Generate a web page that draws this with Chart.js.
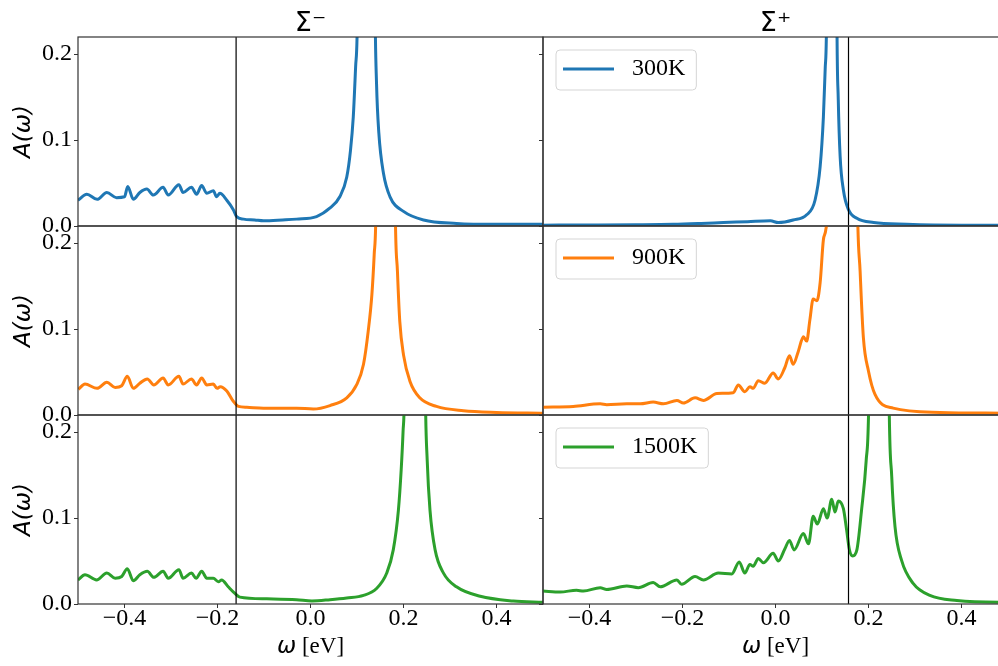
<!DOCTYPE html>
<html>
<head>
<meta charset="utf-8">
<script src="https://cdn.jsdelivr.net/npm/chart.js@4.4.1/dist/chart.umd.min.js"></script>
<style>
  html, body { margin: 0; padding: 0; background: #fff; overflow: hidden; }
  #fig { position: relative; width: 998px; height: 666px; overflow: hidden; background: #fff; }
  #fig canvas { position: absolute; }
</style>
</head>
<body>
<div id="fig"></div>
<script>
const temperatures = ["300K", "900K", "1500K"];
const panelTitles = ["Σ⁻", "Σ⁺"];
const lineColors = ["#1f77b4", "#ff7f0e", "#2ca02c"];
const xTicks = [-0.4, -0.2, 0.0, 0.2, 0.4];
const yTicks = [0.0, 0.1, 0.2];
const gapEdges = [-0.16, 0.157];

// Σ⁻ 300K
const wMinus300 = [-0.500, -0.481, -0.459, -0.438, -0.417, -0.400, -0.393, -0.381, -0.367, -0.352, -0.338, -0.317, -0.306, -0.283, -0.274, -0.256, -0.245, -0.234, -0.223, -0.209, -0.202, -0.195, -0.180, -0.166, -0.159, -0.144, -0.120, -0.101, -0.060, -0.030, 0.013, 0.042, 0.063, 0.078, 0.086, 0.092, 0.097, 0.101, 0.120, 0.139, 0.142, 0.147, 0.157, 0.171, 0.200, 0.243, 0.314, 0.400, 0.500];
const aMinus300 = [0.030, 0.037, 0.031, 0.039, 0.033, 0.034, 0.046, 0.031, 0.039, 0.043, 0.036, 0.045, 0.036, 0.048, 0.039, 0.045, 0.037, 0.047, 0.038, 0.041, 0.034, 0.038, 0.030, 0.019, 0.011, 0.008, 0.007, 0.006, 0.007, 0.008, 0.011, 0.021, 0.034, 0.057, 0.088, 0.127, 0.185, 0.25, 2.0, 0.25, 0.166, 0.108, 0.061, 0.034, 0.017, 0.007, 0.003, 0.002, 0.002];

// Σ⁺ 300K
const wPlus300 = [-0.500, -0.400, -0.300, -0.220, -0.160, -0.112, -0.060, -0.011, 0.006, 0.038, 0.067, 0.085, 0.096, 0.103, 0.107, 0.110, 0.121, 0.132, 0.135, 0.139, 0.146, 0.157, 0.175, 0.211, 0.282, 0.400, 0.500];
const aPlus300 = [0.001, 0.0012, 0.0015, 0.002, 0.003, 0.004, 0.005, 0.006, 0.004, 0.007, 0.013, 0.030, 0.069, 0.127, 0.185, 0.25, 2.0, 0.25, 0.147, 0.081, 0.042, 0.019, 0.009, 0.004, 0.002, 0.001, 0.001];

// Σ⁻ 900K
const wMinus900 = [-0.499, -0.485, -0.459, -0.438, -0.420, -0.406, -0.394, -0.381, -0.367, -0.351, -0.337, -0.317, -0.306, -0.283, -0.274, -0.256, -0.245, -0.234, -0.223, -0.209, -0.201, -0.194, -0.180, -0.166, -0.155, -0.137, -0.101, -0.030, 0.006, 0.042, 0.078, 0.099, 0.114, 0.124, 0.132, 0.137, 0.141, 0.161, 0.182, 0.187, 0.192, 0.200, 0.214, 0.235, 0.271, 0.329, 0.400, 0.500];
const aMinus900 = [0.030, 0.036, 0.031, 0.038, 0.032, 0.034, 0.045, 0.031, 0.037, 0.042, 0.035, 0.043, 0.035, 0.045, 0.036, 0.042, 0.035, 0.043, 0.035, 0.036, 0.031, 0.033, 0.028, 0.016, 0.010, 0.009, 0.008, 0.008, 0.007, 0.011, 0.020, 0.035, 0.059, 0.097, 0.140, 0.187, 0.25, 2.0, 0.25, 0.167, 0.109, 0.070, 0.039, 0.020, 0.010, 0.005, 0.003, 0.002];

// Σ⁺ 900K
const wPlus900 = [-0.500, -0.435, -0.377, -0.363, -0.320, -0.291, -0.263, -0.241, -0.212, -0.198, -0.173, -0.155, -0.126, -0.091, -0.080, -0.066, -0.055, -0.048, -0.037, -0.023, -0.005, 0.006, 0.020, 0.030, 0.038, 0.049, 0.060, 0.067, 0.074, 0.081, 0.089, 0.096, 0.103, 0.108, 0.112, 0.145, 0.176, 0.182, 0.189, 0.200, 0.214, 0.253, 0.354, 0.500];
const aPlus900 = [0.009, 0.010, 0.013, 0.012, 0.013, 0.013, 0.015, 0.013, 0.017, 0.014, 0.020, 0.017, 0.025, 0.026, 0.035, 0.027, 0.033, 0.031, 0.040, 0.037, 0.049, 0.042, 0.055, 0.069, 0.059, 0.074, 0.091, 0.086, 0.111, 0.135, 0.133, 0.154, 0.204, 0.215, 0.25, 2.0, 0.25, 0.167, 0.090, 0.051, 0.024, 0.008, 0.003, 0.002];

// Σ⁻ 1500K
const wMinus1500 = [-0.500, -0.485, -0.460, -0.438, -0.420, -0.406, -0.394, -0.381, -0.367, -0.351, -0.337, -0.317, -0.306, -0.283, -0.274, -0.256, -0.246, -0.234, -0.223, -0.209, -0.198, -0.191, -0.177, -0.162, -0.152, -0.094, -0.030, 0.003, 0.042, 0.078, 0.114, 0.142, 0.164, 0.178, 0.189, 0.195, 0.199, 0.202, 0.225, 0.247, 0.251, 0.257, 0.268, 0.286, 0.314, 0.365, 0.436, 0.500];
const aMinus1500 = [0.028, 0.034, 0.028, 0.036, 0.030, 0.032, 0.041, 0.027, 0.034, 0.038, 0.031, 0.038, 0.030, 0.040, 0.030, 0.036, 0.030, 0.038, 0.030, 0.030, 0.026, 0.028, 0.020, 0.012, 0.008, 0.006, 0.005, 0.0035, 0.005, 0.007, 0.010, 0.018, 0.036, 0.063, 0.109, 0.156, 0.200, 0.25, 2.0, 0.25, 0.167, 0.109, 0.063, 0.036, 0.020, 0.009, 0.0035, 0.002];

// Σ⁺ 1500K
const wPlus1500 = [-0.500, -0.463, -0.428, -0.413, -0.377, -0.363, -0.320, -0.295, -0.263, -0.248, -0.212, -0.202, -0.173, -0.155, -0.123, -0.094, -0.078, -0.066, -0.055, -0.048, -0.037, -0.026, -0.005, 0.006, 0.020, 0.030, 0.040, 0.060, 0.071, 0.081, 0.090, 0.103, 0.111, 0.121, 0.128, 0.135, 0.146, 0.153, 0.159, 0.166, 0.175, 0.185, 0.195, 0.201, 0.223, 0.244, 0.250, 0.257, 0.271, 0.296, 0.332, 0.390, 0.480, 0.500];
const aPlus1500 = [0.015, 0.014, 0.016, 0.015, 0.019, 0.017, 0.021, 0.019, 0.025, 0.020, 0.028, 0.023, 0.032, 0.028, 0.036, 0.035, 0.049, 0.036, 0.046, 0.044, 0.053, 0.048, 0.059, 0.050, 0.064, 0.074, 0.063, 0.082, 0.070, 0.102, 0.093, 0.111, 0.100, 0.122, 0.107, 0.120, 0.111, 0.086, 0.063, 0.056, 0.063, 0.109, 0.167, 0.25, 2.0, 0.25, 0.148, 0.090, 0.051, 0.024, 0.010, 0.004, 0.002, 0.002];

const panels = [
  { row: 0, col: 0, w: wMinus300, a: aMinus300 },
  { row: 0, col: 1, w: wPlus300, a: aPlus300 },
  { row: 1, col: 0, w: wMinus900, a: aMinus900 },
  { row: 1, col: 1, w: wPlus900, a: aPlus900 },
  { row: 2, col: 0, w: wMinus1500, a: aMinus1500 },
  { row: 2, col: 1, w: wPlus1500, a: aPlus1500 },
];

// figure geometry (px)
const colLeft = [78, 543];
const panelW = 465;
const rowTop = 37;
const rowH = 189;

const fmt = (v) => (v < 0 ? "\u2212" : "") + Math.abs(v).toFixed(1);
const tickFont = { family: "'Liberation Serif', 'Times New Roman', serif", size: 24, lineHeight: 1 };

// box around each axes + legend frame + x label
const framePlugin = {
  id: "frame",
  afterDatasetsDraw(chart) {
    const { ctx, chartArea: c } = chart;
    ctx.save();
    ctx.strokeStyle = "#333";
    ctx.lineWidth = 1.2;
    ctx.strokeRect(c.left, c.top, c.right - c.left, c.bottom - c.top);
    ctx.restore();
  },
  afterDraw(chart, args, opts) {
    const { ctx, chartArea: c } = chart;
    const lg = chart.legend;
    if (lg && lg.options.display && lg.legendHitBoxes.length) {
      const h = lg.legendHitBoxes[0];
      ctx.save();
      ctx.strokeStyle = "#d5d5d5";
      ctx.lineWidth = 1;
      ctx.beginPath();
      ctx.roundRect(h.left - 7, h.top - 7, h.width + 18, h.height + 16, 4);
      ctx.stroke();
      ctx.restore();
    }
    if (opts.xLabel) {
      ctx.save();
      ctx.fillStyle = "#000";
      ctx.textBaseline = "middle";
      const f1 = "italic 23px 'DejaVu Sans'";
      const f2 = "23px 'Liberation Serif'";
      ctx.font = f1;
      const w1 = ctx.measureText("ω").width;
      ctx.font = f2;
      const w2 = ctx.measureText(" [eV]").width;
      let x = (c.left + c.right) / 2 - (w1 + w2) / 2;
      const y = c.bottom + 43;
      ctx.font = f1;
      ctx.fillText("ω", x, y);
      ctx.font = f2;
      ctx.fillText(" [eV]", x + w1, y);
      ctx.restore();
    }
  },
};

const fig = document.getElementById("fig");

panels.forEach((p) => {
  const LM = p.col === 0 ? 78 : 20;
  const RM = 12;
  const TM = p.row === 0 ? 37 : 20;
  const BM = p.row === 2 ? 62 : 20;
  const width = LM + panelW + RM;
  const height = TM + rowH + BM;

  const canvas = document.createElement("canvas");
  canvas.width = width;
  canvas.height = height;
  canvas.style.left = (colLeft[p.col] - LM) + "px";
  canvas.style.top = (rowTop + p.row * rowH - TM) + "px";
  canvas.style.width = width + "px";
  canvas.style.height = height + "px";
  fig.appendChild(canvas);

  new Chart(canvas.getContext("2d"), {
    type: "line",
    data: {
      datasets: [
        {
          label: temperatures[p.row],
          data: p.w.map((x, i) => ({ x: x, y: p.a[i] })),
          borderColor: lineColors[p.row],
          backgroundColor: lineColors[p.row],
          borderWidth: 3,
          pointRadius: 0,
          cubicInterpolationMode: "monotone",
          clip: 0,
          order: 1,
        },
        {
          label: "",
          data: [{ x: gapEdges[p.col], y: 0 }, { x: gapEdges[p.col], y: 0.22 }],
          borderColor: "#000",
          borderWidth: 1.2,
          pointRadius: 0,
          clip: 0,
          order: 0,
        },
      ],
    },
    options: {
      responsive: false,
      animation: false,
      devicePixelRatio: 1,
      events: [],
      layout: { padding: { top: p.row === 0 ? 0 : TM, left: 0, right: RM, bottom: 0 } },
      scales: {
        x: {
          type: "linear",
          min: -0.5,
          max: 0.5,
          afterBuildTicks: (s) => { s.ticks = xTicks.map((v) => ({ value: v })); },
          afterFit: (s) => { s.height = BM; },
          // upper rows' tick marks are hidden under the panel below
          grid: { display: p.row === 2, drawOnChartArea: false, drawTicks: true, tickLength: 4, color: "#333" },
          border: { display: false },
          ticks: { display: p.row === 2, font: tickFont, color: "#000", padding: -1, maxRotation: 0, autoSkip: false, callback: fmt },
        },
        y: {
          type: "linear",
          min: 0,
          max: 0.22,
          afterBuildTicks: (s) => { s.ticks = yTicks.map((v) => ({ value: v })); },
          afterFit: (s) => { s.width = LM; },
          grid: { drawOnChartArea: false, drawTicks: true, tickLength: 4, color: "#333" },
          border: { display: false },
          ticks: { display: p.col === 0, font: tickFont, color: "#000", padding: 2, autoSkip: false, callback: fmt },
          title: {
            display: p.col === 0,
            text: "A(ω)",
            color: "#000",
            font: { family: "'DejaVu Sans'", style: "italic", size: 23, lineHeight: 1 },
            padding: { top: 13, bottom: 0 },
          },
        },
      },
      plugins: {
        title: {
          display: p.row === 0,
          text: panelTitles[p.col],
          fullSize: false,
          color: "#000",
          font: { family: "'DejaVu Sans'", size: 27, weight: "normal", lineHeight: 1 },
          padding: { top: 10, bottom: 0 },
        },
        legend: {
          display: p.col === 1,
          position: "chartArea",
          align: "start",
          // the legend box starts at the canvas top; an empty title pushes it down to the axes top
          title: { display: true, text: " ", font: { size: 10, lineHeight: 1 }, padding: { top: TM - 10, bottom: 0 } },
          labels: {
            usePointStyle: true,
            pointStyle: "line",
            pointStyleWidth: 51,
            padding: 20,
            color: "#000",
            font: { family: "'Liberation Serif'", size: 24, lineHeight: 1 },
            generateLabels: (chart) =>
              Chart.defaults.plugins.legend.labels.generateLabels(chart).map((l) => ({ ...l, text: " " + l.text })),
            filter: (item) => item.text.trim() !== "",
          },
        },
        tooltip: { enabled: false },
        frame: { xLabel: p.row === 2 },
      },
    },
    plugins: [framePlugin],
  });
});
</script>
</body>
</html>
